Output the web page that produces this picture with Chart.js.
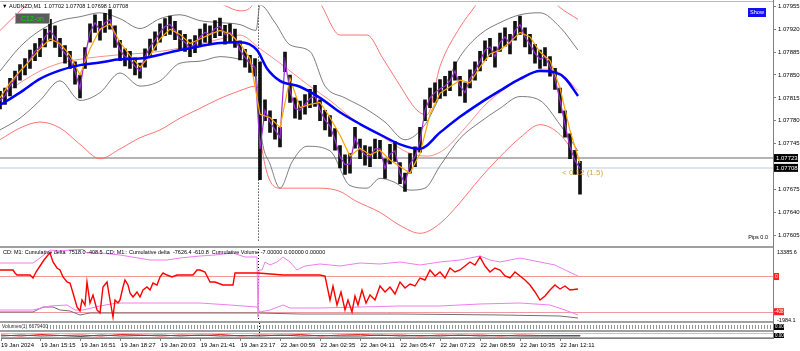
<!DOCTYPE html>
<html><head><meta charset="utf-8">
<script src="https://cdn.jsdelivr.net/npm/chart.js@4.4.1/dist/chart.umd.min.js"></script>
<style>
html,body{margin:0;padding:0;background:#fff;width:800px;height:351px;overflow:hidden;}
canvas{position:absolute;left:0;}
.ln{position:absolute;background:#a0a0a0;z-index:5;}
</style></head><body>
<canvas id="cMain" width="800" height="248" style="top:0px"></canvas>
<canvas id="cCD" width="800" height="75" style="top:248px"></canvas>
<canvas id="cBot" width="800" height="28" style="top:323px"></canvas>
<div class="ln" style="left:0;top:1px;width:774px;height:1px;background:#b8b8b8"></div>
<div class="ln" style="left:0;top:246px;width:774px;height:2px;"></div>
<div class="ln" style="left:0;top:321px;width:774px;height:2px;"></div>
<div class="ln" style="left:0;top:330px;width:774px;height:2px;"></div>
<div class="ln" style="left:773px;top:0;width:1px;height:339px;background:#808080"></div>
<script>
// ---------- x axis (sample index; one time label every 8 samples) ----------
const timeLabels = ["19 Jan 2024","19 Jan 15:15","19 Jan 16:51","19 Jan 18:27","19 Jan 20:03","19 Jan 21:41","19 Jan 23:17","22 Jan 00:59","22 Jan 02:35","22 Jan 04:11","22 Jan 05:47","22 Jan 07:23","22 Jan 08:59","22 Jan 10:35","22 Jan 12:11"];
const labelStep = 8;
const xMax = 154.6;
const sessionBreak = 51.6;

// ---------- price panel ----------
const priceTicks = [1.07955,1.07920,1.07885,1.07850,1.07815,1.07780,1.07745,1.07675,1.07640,1.07605];
const priceMin = 1.075941, priceMax = 1.07956;
const lineLevel = 1.07723, lastBid = 1.07708;
const titleText = "\u25BC AUDNZD,M1  1.07702 1.07708 1.07698 1.07708";

const closePrice = [1.07811,1.07818,1.07833,1.07844,1.07856,1.07863,1.07874,1.07886,1.07893,1.07908,
1.07918,1.07908,1.07893,1.07883,1.07874,1.07856,1.07829,1.07878,1.07915,1.07930,
1.07918,1.07930,1.07935,1.07908,1.07888,1.07878,1.07874,1.07863,1.07856,1.07878,
1.07893,1.07903,1.07915,1.07924,1.07927,1.07918,1.07905,1.07900,1.07891,1.07897,
1.07908,1.07915,1.07912,1.07921,1.07924,1.07912,1.07915,1.07906,1.07888,1.07877,
1.07868,1.07862,1.07737,1.07796,1.07778,1.07766,1.07754,1.07871,1.07826,1.07799,
1.07796,1.07805,1.07814,1.07818,1.07796,1.07781,1.07772,1.07751,1.07725,1.07713,
1.07714,1.07754,1.07737,1.07728,1.07725,1.07737,1.07737,1.07707,1.07729,1.07734,
1.07699,1.07684,1.07714,1.07725,1.07748,1.07796,1.07815,1.07823,1.07829,1.07833,
1.07841,1.07856,1.07833,1.07823,1.07844,1.07856,1.07871,1.07888,1.07893,1.07878,
1.07900,1.07908,1.07897,1.07918,1.07927,1.07908,1.07897,1.07883,1.07874,1.07878,
1.07863,1.07844,1.07811,1.07774,1.07740,1.07719,1.07707];
const highPrice = [1.07825,1.07830,1.07845,1.07856,1.07866,1.07875,1.07888,1.07898,1.07906,1.07920,
1.07935,1.07925,1.07906,1.07895,1.07886,1.07870,1.07850,1.07892,1.07928,1.07942,
1.07932,1.07944,1.07950,1.07925,1.07903,1.07890,1.07886,1.07876,1.07868,1.07890,
1.07905,1.07916,1.07928,1.07936,1.07940,1.07932,1.07918,1.07912,1.07904,1.07910,
1.07920,1.07928,1.07925,1.07933,1.07937,1.07926,1.07928,1.07920,1.07902,1.07889,
1.07880,1.07875,1.07870,1.07812,1.07795,1.07782,1.07770,1.07885,1.07850,1.07815,
1.07810,1.07820,1.07828,1.07834,1.07812,1.07796,1.07788,1.07768,1.07742,1.07728,
1.07730,1.07770,1.07752,1.07742,1.07740,1.07752,1.07750,1.07722,1.07744,1.07748,
1.07716,1.07700,1.07730,1.07740,1.07770,1.07812,1.07830,1.07838,1.07843,1.07848,
1.07856,1.07870,1.07848,1.07838,1.07858,1.07870,1.07886,1.07902,1.07906,1.07893,
1.07914,1.07922,1.07912,1.07932,1.07940,1.07922,1.07912,1.07897,1.07888,1.07892,
1.07878,1.07860,1.07830,1.07795,1.07760,1.07735,1.07718];
const lowPrice = [1.07798,1.07805,1.07818,1.07830,1.07842,1.07850,1.07860,1.07872,1.07878,1.07893,
1.07902,1.07892,1.07878,1.07868,1.07860,1.07836,1.07815,1.07860,1.07900,1.07915,
1.07903,1.07915,1.07920,1.07892,1.07872,1.07864,1.07860,1.07850,1.07845,1.07862,
1.07878,1.07888,1.07900,1.07910,1.07912,1.07904,1.07890,1.07886,1.07878,1.07884,
1.07894,1.07900,1.07898,1.07907,1.07910,1.07897,1.07900,1.07892,1.07873,1.07862,
1.07854,1.07848,1.07690,1.07780,1.07762,1.07752,1.07740,1.07855,1.07808,1.07784,
1.07782,1.07790,1.07800,1.07802,1.07780,1.07766,1.07756,1.07735,1.07708,1.07698,
1.07700,1.07738,1.07722,1.07712,1.07710,1.07722,1.07722,1.07692,1.07714,1.07718,
1.07684,1.07672,1.07700,1.07710,1.07732,1.07780,1.07800,1.07808,1.07814,1.07818,
1.07826,1.07842,1.07818,1.07808,1.07830,1.07842,1.07856,1.07872,1.07878,1.07862,
1.07886,1.07894,1.07882,1.07903,1.07912,1.07893,1.07882,1.07868,1.07860,1.07864,
1.07848,1.07828,1.07792,1.07755,1.07722,1.07698,1.07668];
// fast MA, one value every 2 samples
const fastMA = [1.07815,1.07838,1.07856,1.07872,1.07890,1.07905,1.07898,1.07880,1.07850,1.07890,
1.07920,1.07928,1.07900,1.07880,1.07862,1.07880,1.07905,1.07920,1.07912,1.07898,
1.07905,1.07912,1.07918,1.07913,1.07898,1.07875,1.07790,1.07785,1.07770,1.07845,
1.07800,1.07805,1.07808,1.07785,1.07758,1.07726,1.07738,1.07728,1.07735,1.07720,
1.07710,1.07700,1.07730,1.07790,1.07822,1.07832,1.07842,1.07838,1.07862,1.07882,
1.07888,1.07900,1.07915,1.07908,1.07885,1.07872,1.07830,1.07765,1.07715];
const slowMAIdx = [0,4,8,12,16,20,24,28,32,36,40,44,48,51.4,53.4,56,60,64,68,72,76,80,84,88,92,96,100,104,108,111,113,115.6];
const slowMA = [1.07804,1.07823,1.07844,1.07857,1.07865,1.07869,1.07874,1.07875,1.07881,1.07888,1.07894,1.07899,1.07900,1.07888,1.07860,1.07841,1.07832,1.07815,1.07793,1.07775,1.07759,1.07744,1.07737,1.07762,1.07786,1.07807,1.07826,1.07844,1.07856,1.07854,1.07845,1.07818];
const bbUpIdx = [0,4,8,12,16,20,24,28,32,36,40,44,48,51.2,52,55,58,62,65,69,73,77,81,85,88,92,96,100,104,108,112,115.6];
const bbUp = [1.07856,1.07893,1.07918,1.07933,1.07939,1.07945,1.07936,1.07921,1.07936,1.07942,1.07933,1.07930,1.07927,1.07918,1.07957,1.07930,1.07896,1.07886,1.07833,1.07815,1.07799,1.07778,1.07751,1.07774,1.07818,1.07878,1.07912,1.07930,1.07942,1.07945,1.07923,1.07888];
const bbLoIdx = [0,4,8,12,16,20,24,28,32,36,40,44,48,51.2,52.4,54,56,58.4,61.4,66,70,73.4,76,78.6,82,85,88,92,96,100,104,108,112,115.6];
const bbLo = [1.07766,1.07784,1.07811,1.07841,1.07811,1.07823,1.07853,1.07833,1.07841,1.07868,1.07871,1.07878,1.07874,1.07848,1.07751,1.07714,1.07677,1.07717,1.07741,1.07734,1.07681,1.07677,1.07692,1.07687,1.07674,1.07677,1.07711,1.07753,1.07778,1.07799,1.07817,1.07811,1.07774,1.07734];
const envUpIdx = [0,2,4,7,12,20,30,40,45,48,51,52.4,60,64,68,73.4,76.6,79.4,83.4,85.4,88,92,95,98,108,112,115.6];
const envUp = [1.07918,1.07933,1.07948,1.07967,1.07982,1.07985,1.07980,1.07975,1.07956,1.07948,1.07963,1.08005,1.07997,1.07960,1.07911,1.07911,1.07875,1.07841,1.07796,1.07789,1.07863,1.07923,1.07955,1.07990,1.07982,1.07953,1.07935];
const envMidIdx = [0,4,8,12,16,20,24,28,32,36,40,44,48,52,56,61.4,66,70,74,77.4,81.4,85.4,89,93,97,101,105,109,112,115.6];
const envMid = [1.07818,1.07838,1.07856,1.07868,1.07874,1.07878,1.07881,1.07883,1.07886,1.07891,1.07897,1.07905,1.07911,1.07890,1.07868,1.07836,1.07811,1.07786,1.07766,1.07751,1.07732,1.07726,1.07737,1.07769,1.07804,1.07829,1.07848,1.07859,1.07853,1.07826];
const envLoIdx = [0,4,8,12,16,20,24,28,32,36,40,44,48,51.2,52.4,56,64,68,71,76,80,84,88,92,96,100,104,108,112,115.6];
const envLo = [1.07751,1.07769,1.07778,1.07769,1.07744,1.07722,1.07737,1.07754,1.07766,1.07784,1.07799,1.07814,1.07826,1.07833,1.07737,1.07677,1.07677,1.07672,1.07658,1.07640,1.07620,1.07608,1.07623,1.07655,1.07692,1.07725,1.07754,1.07774,1.07759,1.07722];

// ---------- cumulative delta panel ----------
const cdMax = 13385.6, cdMin = -1984.1;
const cdLevels = [7518.0, 0];
const cdHeader = "CD: M1: Cumulative delta  7518.0 -408.5  CD: M1:: Cumulative delta  -7626.4 -610.8  Cumulative Volume -7.00000 0.00000 0.00000";
const cdRedIdx = [0,2.6,3,3.4,6,6.6,7.2,8,8.8,9.6,10,10.6,11.4,12,12.6,13.4,14,14.6,15,15.4,16,16.4,17,17.4,18,18.6,19.4,20,20.6,21.4,22,22.6,23,23.6,24,24.6,25,25.6,26,26.6,27.4,28,28.6,29.4,30,30.6,31.4,32,32.6,33.4,34.4,35.4,38.6,39.4,40,41,42,43,44.6,46.6,47,51.6,56.6,60,64,65,66,66.6,67.4,68.2,69,69.6,70.4,71,71.6,72.4,73.2,74,75,76,77,78,79,80,81,82,83,84,85,86,87,88,89,90,91,92,93,94,95,96,97,98,99,100,101,102,103,104,105,106,107,108,109,110,111,112,113,114,115.6];
const cdRed = [8903,8903,8262,7835,7835,7195,8476,9757,11037,12105,12532,10610,9330,8903,7408,6341,6127,3993,2499,1004,151,2499,1431,6341,1858,3566,364,-276,5274,6341,2499,-1130,2499,1858,2499,5274,6768,5700,3993,3139,4206,3139,4633,5274,4633,6127,5700,7408,8262,7835,7408,7835,7835,8903,8903,8476,6341,6341,5700,5700,8262,8262,7835,7835,7835,7622,2499,5487,1431,4206,364,2499,-63,3353,1431,4633,1858,3566,2499,5487,4206,5274,3780,6341,5060,5914,5487,7195,6768,8903,7622,8476,7195,9330,8476,8903,9757,10610,9970,11678,9757,8476,9330,8903,7622,7195,8476,7622,6768,5700,4206,2499,3353,4633,5700,4847,5487,4633,4847];
const cdMagUpIdx = [0,6.6,8,10,12,14,16.6,17.4,20,24,30,33.4,36,40,43,46.6,49,51.4,51.6,51.8,52.4,53,54,55.4,56.6,58,59.4,61,64,68,72,76,80,84,88,92,96,98,100,104,108,111,113,115.6];
const cdMagUp = [10397,10397,11464,13172,12958,13172,13279,12532,12532,12105,11037,11037,11464,11891,12105,12532,11678,11678,-1130,8903,8903,10610,9970,10610,11678,10610,8903,9757,10184,9757,10397,10184,10610,9970,10610,11037,11891,11037,10610,11464,10610,9970,8903,7622];
const cdMagLoIdx = [0,6.6,10,13.4,15,16.6,20,23.4,30,40,46,51.4,52,54,56.6,58,64,72,80,88,96,104,110,113,115.6];
const cdMagLo = [364,364,1218,1431,364,364,1218,1858,1858,1858,1431,1004,-63,364,1431,791,791,1004,1218,1218,1645,1858,1431,364,-703];
const cdGrayIdx = [0,6.6,8.6,10.6,12,14,16,18,24,51.6,60,80,100,112,115.6];
const cdGray = [-63,-63,1004,1004,364,151,-703,-276,-276,-276,-490,-490,-703,-917,-1344];

// ---------- bottom strip ----------
const stripRed = [3,2,3.5,2.5,3,2,3.5,3,2,3,2.5,3.5,2,3,2.5,3.5,2,3,3.5,2.5,3,2,3,2.5,3,2,3,2.5,2.5,2.5];
const stripBlack = [2,3,2,2.5,1.5,3,2,2.5,3,2,3,2,2.5,2,3,2,2.5,2,2,3,2,2.5,2,3,2,2.5,2,2,2,2];
const stripStep = 4;
const volText = "Volumes(1) 6679400";

// ---------- helpers ----------
const FONT = "'Liberation Sans', Arial, 'DejaVu Sans', sans-serif";
Chart.defaults.font.family = FONT;
Chart.defaults.font.size = 6;
Chart.defaults.color = '#000';
const xy = (xs, ys) => ys.map((y, i) => ({x: xs[i], y}));
const line = (label, data, color, width, extra) => Object.assign({type:'line', label, data, borderColor:color, borderWidth:width, pointRadius:0, fill:false}, extra||{});
const baseX = (display) => ({type:'linear', min:0, max:xMax, offset:false, display});
const axisW = s => { s.width = 27; };

function vSep(chart){
  const {ctx, chartArea:a, scales:{x}} = chart;
  const px = x.getPixelForValue(sessionBreak);
  ctx.save();
  ctx.strokeStyle = '#000'; ctx.lineWidth = 1; ctx.setLineDash([1,2]);
  ctx.beginPath(); ctx.moveTo(Math.round(px)+0.5, a.top); ctx.lineTo(Math.round(px)+0.5, a.bottom); ctx.stroke();
  ctx.restore();
}
function txt(ctx, s, x, y, color, size, align, weight){
  ctx.font = (weight||'') + ' ' + size + 'px ' + FONT;
  ctx.fillStyle = color; ctx.textAlign = align||'left'; ctx.textBaseline = 'middle';
  ctx.fillText(s, x, y);
}

// ---------- main chart ----------
const mainDecor = {
  id:'mainDecor',
  beforeDatasetsDraw(chart){
    const {ctx, chartArea:a, scales:{y}} = chart;
    ctx.save();
    let py = y.getPixelForValue(lineLevel);
    ctx.fillStyle = '#b4b4b4'; ctx.fillRect(a.left, Math.round(py)-1, a.right-a.left, 2);
    py = y.getPixelForValue(lastBid);
    ctx.fillStyle = '#dfe5ec'; ctx.fillRect(a.left, Math.round(py)-1, a.right-a.left, 2);
    ctx.restore();
    vSep(chart);
  },
  afterDraw(chart){
    const {ctx, chartArea:a, scales:{y}} = chart;
    ctx.save();
    [lineLevel, lastBid].forEach(v => {
      const py = y.getPixelForValue(v);
      ctx.fillStyle = '#000'; ctx.fillRect(a.right+1, py-4, 24, 8);
      txt(ctx, v.toFixed(5), a.right+3, py, '#fff', 6);
    });
    txt(ctx, titleText, 2, 6, '#000', 5.5);
    ctx.fillStyle = '#5c5c5c'; ctx.fillRect(15, 13, 35, 11);
    ctx.strokeStyle = '#a8a8a8'; ctx.lineWidth = 1; ctx.strokeRect(15.5, 13.5, 34, 10);
    txt(ctx, 'C12-on', 32.5, 18.8, '#00e000', 7, 'center');
    ctx.fillStyle = '#1010f0'; ctx.fillRect(748, 8, 18, 9);
    txt(ctx, 'Show', 757, 12.6, '#fff', 5.5, 'center');
    const ly = y.getPixelForValue(lastBid);
    txt(ctx, '< 0.12 (1.5)', 562, ly + 4.5, '#d9a441', 8);
    txt(ctx, 'Pips 0.0', 768, 237.5, '#000', 5.5, 'right');
    ctx.restore();
  }
};

new Chart(document.getElementById('cMain'), {
  type:'line',
  data:{ datasets:[
    line('MA slow', xy(slowMAIdx, slowMA), '#0000ff', 2.5, {order:1, cubicInterpolationMode:'monotone'}),
    line('MA fast', fastMA.map((y,j)=>({x:j*2, y})), '#ffa500', 1.2, {order:2}),
    line('Close', closePrice.map((y,i)=>({x:i, y})), '#9b30d9', 1.2, {order:3}),
    {type:'bar', label:'Range', order:4, data: closePrice.map((_,i)=>({x:i, y:[lowPrice[i], highPrice[i]]})), backgroundColor:'#111', barThickness:3, grouped:false},
    line('BB upper', xy(bbUpIdx, bbUp), '#6e6e6e', 0.9, {order:5, cubicInterpolationMode:'monotone'}),
    line('BB lower', xy(bbLoIdx, bbLo), '#6e6e6e', 0.9, {order:5, cubicInterpolationMode:'monotone'}),
    line('Env upper', xy(envUpIdx, envUp), '#ff6464', 0.9, {order:6, cubicInterpolationMode:'monotone'}),
    line('Env mid', xy(envMidIdx, envMid), '#ff8080', 0.9, {order:6, cubicInterpolationMode:'monotone'}),
    line('Env lower', xy(envLoIdx, envLo), '#ff6464', 0.9, {order:6, cubicInterpolationMode:'monotone'})
  ]},
  options:{
    responsive:false, animation:false, devicePixelRatio:1,
    layout:{padding:{top:3, bottom:2, left:0, right:0}},
    plugins:{legend:{display:false}, tooltip:{enabled:false}},
    scales:{
      x: baseX(false),
      y: { position:'right', min:priceMin, max:priceMax,
        afterBuildTicks: s => { s.ticks = priceTicks.map(v => ({value:v})); },
        afterFit: axisW,
        ticks:{ callback: v => Number(v).toFixed(5), padding:2, font:{size:6}, color:'#000' },
        grid:{ drawOnChartArea:false, tickLength:3, color:'#808080' },
        border:{ color:'#808080' } }
    }
  },
  plugins:[mainDecor]
});

// ---------- cumulative delta chart ----------
const cdDecor = {
  id:'cdDecor',
  beforeDatasetsDraw(chart){
    const {ctx, chartArea:a, scales:{y}} = chart;
    ctx.save();
    ctx.strokeStyle = '#f29a9a'; ctx.lineWidth = 1;
    cdLevels.forEach(v => { const py = Math.round(y.getPixelForValue(v))+0.5; ctx.beginPath(); ctx.moveTo(a.left, py); ctx.lineTo(a.right, py); ctx.stroke(); });
    ctx.restore();
    vSep(chart);
  },
  afterDraw(chart){
    const {ctx, chartArea:a, scales:{y}} = chart;
    ctx.save();
    txt(ctx, cdHeader, 3, a.top + 3.5, '#000', 5.5);
    txt(ctx, cdMax.toFixed(1), a.right+4, a.top + 3, '#000', 5.5);
    txt(ctx, cdMin.toFixed(1), a.right+4, a.bottom - 1, '#000', 5.5);
    let py = y.getPixelForValue(cdLevels[0]);
    ctx.fillStyle = '#ff2020'; ctx.fillRect(a.right+1, py-3.5, 5, 7);
    txt(ctx, '0', a.right+3.5, py, '#fff', 5, 'center');
    py = y.getPixelForValue(cdLevels[1]);
    ctx.fillStyle = '#ff2020'; ctx.fillRect(a.right+1, py-3.5, 10, 7);
    txt(ctx, '-408', a.right+6, py, '#fff', 4.5, 'center');
    ctx.restore();
  }
};
new Chart(document.getElementById('cCD'), {
  type:'line',
  data:{ datasets:[
    line('Cumulative delta', xy(cdRedIdx, cdRed), '#ff0000', 1.4, {order:1}),
    line('Delta high', xy(cdMagUpIdx, cdMagUp), '#f07cf0', 1, {order:2}),
    line('Delta low', xy(cdMagLoIdx, cdMagLo), '#f07cf0', 1, {order:3}),
    line('Cumulative volume', xy(cdGrayIdx, cdGray), '#707070', 1, {order:4})
  ]},
  options:{
    responsive:false, animation:false, devicePixelRatio:1,
    layout:{padding:{top:1, bottom:2, left:0, right:0}},
    plugins:{legend:{display:false}, tooltip:{enabled:false}},
    scales:{
      x: baseX(false),
      y: { position:'right', min:cdMin, max:cdMax, afterFit:axisW,
        ticks:{display:false}, grid:{display:false}, border:{color:'#808080'} }
    }
  },
  plugins:[cdDecor]
});

// ---------- bottom strips + time axis ----------
const botDecor = {
  id:'botDecor',
  beforeDatasetsDraw(chart){
    const {ctx, chartArea:a} = chart;
    ctx.save();
    // volume strip texture
    for (let px = a.left + 1; px < a.right - 1; px += 3) {
      ctx.fillStyle = (Math.round(px) % 21 === 1) ? '#5fa0a0' : '#8c9696';
      ctx.fillRect(px, a.top + 2, 1, 4);
    }
    ctx.fillStyle = '#c4c4c4'; ctx.fillRect(a.left, a.top + 10, a.right - a.left, 1);
    ctx.fillStyle = '#a8a8a8'; ctx.fillRect(a.left, a.bottom - 1, a.right - a.left, 1);
    ctx.restore();
    vSep(chart);
  },
  afterDraw(chart){
    const {ctx, chartArea:a} = chart;
    ctx.save();
    ctx.fillStyle = 'rgba(255,255,255,0.85)'; ctx.fillRect(1, a.top+1, 44, 6);
    txt(ctx, volText, 2, a.top + 4, '#333', 5);
    ctx.fillStyle = '#000'; ctx.fillRect(a.right+1, a.top+1, 10, 6); ctx.fillRect(a.right+1, a.top+10, 10, 5);
    txt(ctx, '0.00', a.right+2, a.top+4, '#fff', 4.5);
    txt(ctx, '0.00', a.right+2, a.top+12.5, '#fff', 4.5);
    ctx.restore();
  }
};
new Chart(document.getElementById('cBot'), {
  type:'line',
  data:{ datasets:[
    line('Strip red', stripRed.map((y,j)=>({x:j*stripStep, y})), '#e02020', 1, {order:1}),
    line('Strip black', stripBlack.map((y,j)=>({x:j*stripStep, y})), '#222', 0.8, {order:2})
  ]},
  options:{
    responsive:false, animation:false, devicePixelRatio:1,
    layout:{padding:{top:0, bottom:0, left:0, right:0}},
    plugins:{legend:{display:false}, tooltip:{enabled:false}},
    scales:{
      x: { type:'linear', min:0, max:xMax, offset:false, position:'bottom',
        afterBuildTicks: s => { s.ticks = timeLabels.map((_,k) => ({value:k*labelStep})); },
        afterFit: s => { s.height = 13; },
        ticks:{ callback: v => timeLabels[Math.round(v/labelStep)], align:'start', maxRotation:0, minRotation:0, autoSkip:false, padding:1, font:{size:6}, color:'#000' },
        grid:{ drawOnChartArea:false, tickLength:3, color:'#808080' },
        border:{ color:'#808080' } },
      y: { position:'right', min:0, max:15, afterFit:axisW, ticks:{display:false}, grid:{display:false}, border:{color:'#808080'} }
    }
  },
  plugins:[botDecor]
});
</script>
</body></html>
